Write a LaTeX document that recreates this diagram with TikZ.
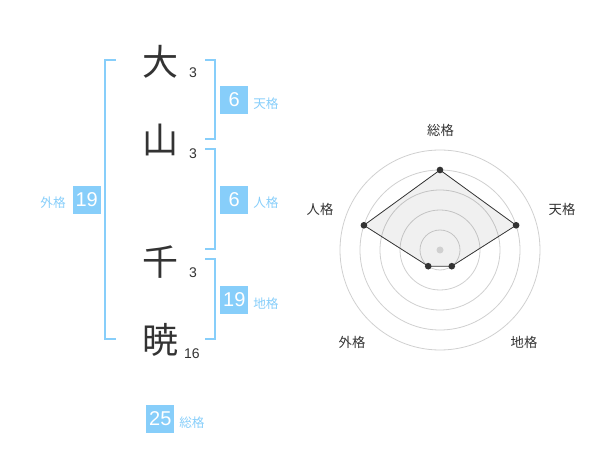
\documentclass[tikz,border=0pt]{standalone}
\usepackage{fontspec}
\setmainfont{Liberation Sans}
\newfontfamily\jp{Noto Sans CJK JP}
\definecolor{sky}{HTML}{87CEFA}
\definecolor{ink}{HTML}{333333}
\definecolor{ringc}{HTML}{D0D0D0}
\begin{document}
\begin{tikzpicture}[x=0.75pt,y=-0.75pt,
  kanji/.style={font=\jp\fontsize{27}{27}\selectfont, text=ink, inner sep=0pt},
  strokes/.style={font=\fontsize{10.5}{10.5}\selectfont, text=ink, inner sep=0pt},
  valbox/.style={fill=sky, text=white, minimum size=21pt, inner sep=0pt, font=\fontsize{15}{15}\selectfont},
  gelabel/.style={text=sky, font=\jp\fontsize{9.5}{9.5}\selectfont, inner sep=0pt},
  bracketline/.style={draw=sky, line width=1.5pt},
  ring/.style={draw=ringc, line width=0.6pt},
  radarlbl/.style={text=ink, font=\jp\fontsize{10}{10}\selectfont, inner sep=0pt},
  dotpt/.style={circle, fill=ink, minimum size=5pt, inner sep=0pt}]
\useasboundingbox (0,0) rectangle (600,470);

% kanji and stroke counts
\node[kanji] (k1) at (160,62) {大};
\node[kanji] (k2) at (160,140) {山};
\node[kanji] (k3) at (160,262) {千};
\node[kanji] (k4) at (160,340) {暁};
\node[strokes] (s1) at (193,73) {3};
\node[strokes] (s2) at (193,153.5) {3};
\node[strokes] (s3) at (193,273) {3};
\node[strokes] (s4) at (192,353.5) {16};

% brackets
\draw[bracketline] (115.5,60) -- (105,60) -- (105,339.3) -- (115.5,339.3);
\draw[bracketline] (205,60) -- (214.5,60) -- (214.5,139.3) -- (205,139.3);
\draw[bracketline] (205,149.3) -- (214.5,149.3) -- (214.5,249.3) -- (205,249.3);
\draw[bracketline] (205,259.3) -- (214.5,259.3) -- (214.5,339.3) -- (205,339.3);

% value boxes and labels
\node[valbox] (ten) at (234.3,100) {6};
\node[gelabel, anchor=west] (tenl) at (253,104) {天格};
\node[valbox] (jin) at (234.3,200) {6};
\node[gelabel, anchor=west] (jinl) at (253,203) {人格};
\node[valbox] (chi) at (234.3,300) {19};
\node[gelabel, anchor=west] (chil) at (253,304) {地格};
\node[valbox] (gai) at (86.7,200) {19};
\node[gelabel, anchor=east] (gail) at (66,203) {外格};
\node[valbox] (sou) at (160.3,419) {25};
\node[gelabel, anchor=west] (soul) at (179,423) {総格};

% radar chart
\coordinate (c) at (440,250);
\foreach \r in {20,40,60,80,100} \draw[ring] (c) circle[radius=\r];
\coordinate (pS) at (440,170);
\coordinate (pT) at (516.1,225.3);
\coordinate (pC) at (451.8,266.2);
\coordinate (pG) at (428.2,266.2);
\coordinate (pJ) at (363.9,225.3);
\fill[black, fill opacity=0.06] (pS) -- (pT) -- (pC) -- (pG) -- (pJ) -- cycle;
\draw[draw=ink, line width=0.6pt] (pS) -- (pT) -- (pC) -- (pG) -- (pJ) -- cycle;
\fill[ringc] (c) circle[radius=3.5];
\foreach \p in {pS,pT,pC,pG,pJ} \node[dotpt] at (\p) {};
\node[radarlbl] (rS) at (440.5,130) {総格};
\node[radarlbl] (rT) at (562,209) {天格};
\node[radarlbl] (rJ) at (320,209) {人格};
\node[radarlbl] (rG) at (352,342) {外格};
\node[radarlbl] (rC) at (524,342) {地格};
\end{tikzpicture}
\end{document}
